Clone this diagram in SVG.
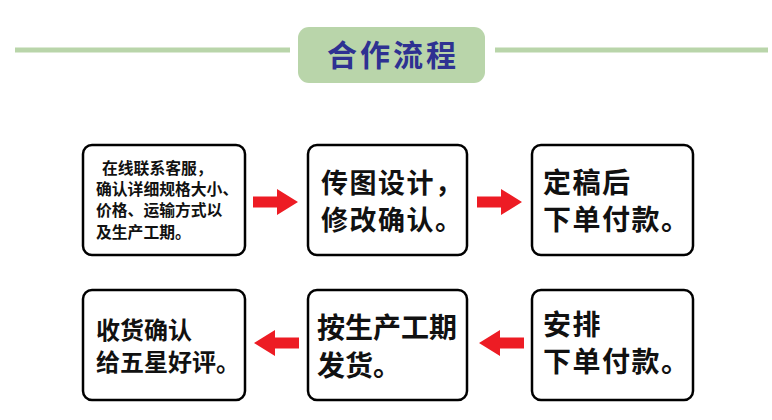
<svg xmlns="http://www.w3.org/2000/svg" width="772" height="420" viewBox="0 0 772 420">
<style>
.box{fill:#fff;stroke:#000;stroke-width:2.5}
.t{font-family:"Noto Sans CJK SC","Noto Sans",sans-serif;font-weight:bold;fill:#111}
.arr{fill:#ed1c24}
.rule{stroke:#b9d5aa;stroke-width:5}
</style>
<defs>
<path id="ar" d="M0,-5.5 H24 V-13 L45,0 L24,13 V5.5 H0 Z"/>
</defs>
<g id="header">
<line class="rule" x1="15" y1="50" x2="290" y2="50"/>
<line class="rule" x1="495" y1="50" x2="768" y2="50"/>
<rect x="298" y="27" width="187" height="56" rx="11" fill="#b9d5aa"/>
<text class="t" x="393" y="66" font-size="30" letter-spacing="3" text-anchor="middle" style="fill:#2e3192">合作流程</text>
</g>
<g id="n1">
<rect class="box" x="83" y="145" width="162" height="110" rx="9"/>
<text class="t" font-size="15.8"><tspan x="102" y="174">在线联系客服，</tspan><tspan x="96" y="195">确认详细规格大小、</tspan><tspan x="96" y="216">价格、运输方式以</tspan><tspan x="96" y="238">及生产工期。</tspan></text>
</g>
<g id="n2">
<rect class="box" x="308" y="145" width="159" height="110" rx="9"/>
<text class="t" font-size="27" letter-spacing="1.5"><tspan x="321" y="193">传图设计，</tspan><tspan x="321" y="230">修改确认。</tspan></text>
</g>
<g id="n3">
<rect class="box" x="532" y="145" width="161" height="110" rx="9"/>
<text class="t" font-size="28" letter-spacing="1.5"><tspan x="543" y="193">定稿后</tspan><tspan x="543" y="230">下单付款。</tspan></text>
</g>
<g id="n4">
<rect class="box" x="532" y="290" width="161" height="110" rx="9"/>
<text class="t" font-size="28" letter-spacing="1.5"><tspan x="543" y="335">安排</tspan><tspan x="543" y="372">下单付款。</tspan></text>
</g>
<g id="n5">
<rect class="box" x="308" y="290" width="159" height="110" rx="9"/>
<text class="t" font-size="28"><tspan x="317" y="338">按生产工期</tspan><tspan x="317" y="376">发货。</tspan></text>
</g>
<g id="n6">
<rect class="box" x="83" y="290" width="162" height="110" rx="9"/>
<text class="t" font-size="24"><tspan x="96" y="339">收货确认</tspan><tspan x="96" y="371">给五星好评。</tspan></text>
</g>
<g id="connectors" class="arr">
<use href="#ar" transform="translate(253,202)"/>
<use href="#ar" transform="translate(477,202)"/>
<use href="#ar" transform="translate(524,343) scale(-1,1)"/>
<use href="#ar" transform="translate(299,343) scale(-1,1)"/>
</g>
</svg>
